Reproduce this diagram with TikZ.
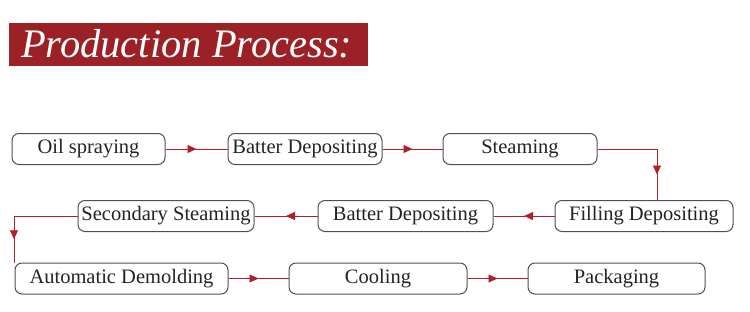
\documentclass[tikz,border=0pt]{standalone}
\usepackage{fontspec}
\setmainfont{Liberation Serif}
\usetikzlibrary{decorations.markings,arrows.meta}

\definecolor{titlered}{RGB}{155,33,38}
\definecolor{linered}{RGB}{180,30,40}
\definecolor{boxgray}{RGB}{80,80,80}
\definecolor{textgray}{RGB}{35,35,35}

\tikzset{
  stepbox/.style={draw=boxgray, line width=1pt, rounded corners=7pt,
    minimum height=31pt, inner sep=0pt, text=textgray,
    font=\fontsize{20.5}{22}\selectfont},
  flow/.style={draw=linered, line width=0.8pt, postaction={decorate},
    decoration={markings,
      mark=at position 0.5 with {\arrow{Triangle[length=9pt,width=8pt]}}}}
}

\begin{document}
\begin{tikzpicture}[x=1pt,y=-1pt]
  \useasboundingbox (0,0) rectangle (750,311);
  % title
  \fill[titlered] (9,23) rectangle (368,66);
  \node[anchor=base west, inner sep=0pt, text=white,
    font=\fontsize{40.5}{44}\selectfont\itshape] (title) at (21,57) {Production Process:};
  % first row
  \node[stepbox, minimum width=153pt] (oil) at (88.5,149) {Oil spraying};
  \node[stepbox, minimum width=154pt] (batter) at (305,149) {Batter Depositing};
  \node[stepbox, minimum width=154pt] (steam) at (520,149) {Steaming};
  % second row
  \node[stepbox, minimum width=178pt] (fill) at (644,216) {Filling Depositing};
  \node[stepbox, minimum width=175pt] (batterb) at (405.5,216) {Batter Depositing};
  \node[stepbox, minimum width=176pt] (second) at (166,216) {Secondary Steaming};
  % third row
  \node[stepbox, minimum width=213pt] (demold) at (121.5,278.5) {Automatic Demolding};
  \node[stepbox, minimum width=178pt] (cool) at (378,278.5) {Cooling};
  \node[stepbox, minimum width=177pt] (pack) at (616.5,278.5) {Packaging};
  % connectors
  \coordinate (Cr) at (657,149);
  \coordinate (Cl) at (14,216);
  \draw[flow] (oil) -- (batter);
  \draw[flow] (batter) -- (steam);
  \draw[draw=linered, line width=0.8pt] (steam.east) -- (Cr);
  \draw[flow] (Cr) -- (Cr |- fill.north);
  \draw[flow] (fill) -- (batterb);
  \draw[flow] (batterb) -- (second);
  \draw[draw=linered, line width=0.8pt] (second.west) -- (Cl);
  \draw[flow] (Cl) -- (Cl |- demold.north);
  \draw[flow] (demold) -- (cool);
  \draw[flow] (cool) -- (pack);
\end{tikzpicture}
\end{document}
